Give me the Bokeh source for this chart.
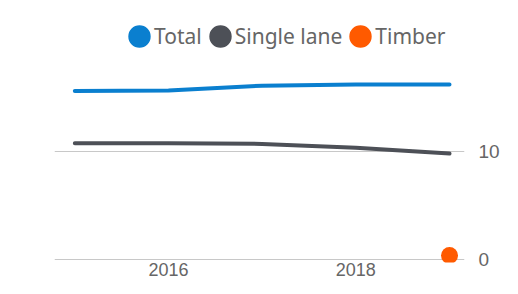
from bokeh.plotting import figure
from bokeh.models import Legend, LegendItem, FixedTicker, Range1d
from bokeh.embed import file_html
from bokeh.resources import INLINE

# ---- data ----
years = [2015, 2016, 2017, 2018, 2019]
total = [15.6, 15.65, 16.1, 16.2, 16.2]
single_lane = [10.75, 10.75, 10.7, 10.35, 9.8]
timber_years = [2019]
timber = [0.35]
x_ticks = [2016, 2018]
y_ticks = [0, 10]
series_names = ["Total", "Single lane", "Timber"]

BLUE = "#0A7FCF"
GRAY = "#4D5057"
ORANGE = "#FF5A00"
TEXT = "#666666"

p = figure(width=502, height=278, output_backend="svg", toolbar_location=None,
           x_range=Range1d(2014.783, 2019.16), y_range=Range1d(-0.3, 24.0),
           y_axis_location="right",
           min_border_left=54, min_border_top=0, min_border_right=0, min_border_bottom=0)
p.outline_line_color = None
p.background_fill_color = "white"
p.border_fill_color = "white"

p.xgrid.visible = False
p.ygrid.ticker = FixedTicker(ticks=y_ticks)
p.ygrid.grid_line_color = "#C8C8C8"
p.ygrid.grid_line_width = 1

p.xaxis.ticker = FixedTicker(ticks=x_ticks)
p.yaxis.ticker = FixedTicker(ticks=y_ticks)
for ax in p.axis:
    ax.axis_line_color = None
    ax.major_tick_line_color = None
    ax.minor_tick_line_color = None
    ax.major_tick_out = 0
    ax.major_tick_in = 0
    ax.minor_tick_out = 0
    ax.minor_tick_in = 0
    ax.major_label_text_font = "Liberation Sans"
    ax.major_label_text_color = TEXT
p.xaxis.major_label_text_font_size = "18px"
p.yaxis.major_label_text_font_size = "19px"
p.xaxis.major_label_standoff = 0
p.yaxis.major_label_standoff = 14

p.line(years, total, line_width=4, line_color=BLUE, line_cap="round", line_join="round")
p.line(years, single_lane, line_width=4, line_color=GRAY, line_cap="round", line_join="round")

# tiny screen-size ellipses on the lines; they give the legend its round swatches
r_total = p.ellipse(x=years, y=total, width=1, height=1, width_units="screen",
                    height_units="screen", fill_color=BLUE, line_color=None)
r_single = p.ellipse(x=years, y=single_lane, width=1, height=1, width_units="screen",
                     height_units="screen", fill_color=GRAY, line_color=None)
r_timber = p.ellipse(x=timber_years, y=timber, width=17, height=17, width_units="screen",
                     height_units="screen", fill_color=ORANGE, line_color=None)

legend = Legend(items=[LegendItem(label=series_names[0], renderers=[r_total]),
                       LegendItem(label=series_names[1], renderers=[r_single]),
                       LegendItem(label=series_names[2], renderers=[r_timber])],
                orientation="horizontal", location=(71, 212),
                glyph_width=28, glyph_height=28, label_standoff=1, spacing=4,
                padding=0, margin=0, border_line_color=None, background_fill_alpha=0,
                label_text_font="Noto Sans", label_text_font_size="21px",
                label_text_color=TEXT)
p.add_layout(legend)

open("out.html", "w").write(file_html(p, INLINE))
